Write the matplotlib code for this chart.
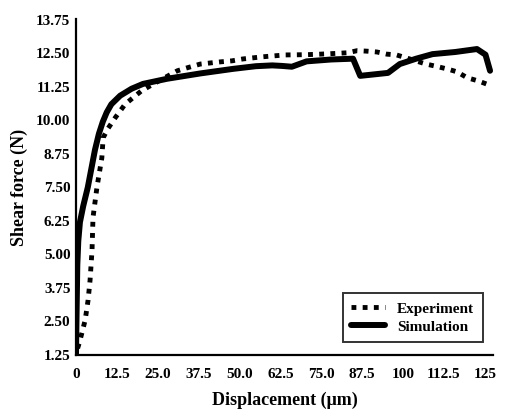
import numpy as np
import matplotlib.pyplot as plt

# values
sim_x = [0, 0.2, 0.4, 0.7, 1.2, 2.2, 3.6, 4.7, 5.8, 7.0, 8.2, 9.4, 10.8, 13.5, 17.0,
         20.5, 27.8, 38.0, 48.0, 55.0, 60.0, 63.0, 66.0, 70.5, 78.0, 84.7, 86.9,
         90.0, 95.4, 99.0, 104.0, 109.0, 116.0, 122.6, 125.2, 126.6]
sim_y = [1.3, 3.0, 4.6, 5.5, 6.2, 6.8, 7.5, 8.2, 8.9, 9.5, 9.95, 10.3, 10.6, 10.92,
         11.18, 11.36, 11.55, 11.75, 11.92, 12.02, 12.05, 12.03, 12.0, 12.2, 12.27,
         12.3, 11.66, 11.7, 11.77, 12.1, 12.3, 12.47, 12.55, 12.66, 12.45, 11.85]

exp_x = [0.5, 1.0, 1.8, 2.8, 3.7, 4.3, 4.9, 5.2, 6.4, 7.9, 8.3, 9.8, 12.0, 15.0,
         20.0, 25.0, 31.0, 34.0, 38.0, 41.0, 44.0, 47.7, 51.0, 57.0, 64.0, 70.6,
         76.8, 83.0, 86.0, 89.0, 92.0, 95.0, 98.0, 101.0, 107.0, 110.7, 114.0,
         116.5, 119.6, 123.0, 126.3]
exp_y = [1.5, 1.7, 2.07, 2.55, 3.3, 4.04, 5.15, 6.38, 7.5, 8.6, 9.35, 9.7, 10.1,
         10.6, 11.1, 11.45, 11.85, 11.96, 12.1, 12.14, 12.18, 12.22, 12.29, 12.37,
         12.44, 12.45, 12.48, 12.52, 12.6, 12.58, 12.55, 12.47, 12.44, 12.33, 12.1,
         12.0, 11.9, 11.81, 11.59, 11.47, 11.32]

x_ticks = [0, 12.5, 25.0, 37.5, 50.0, 62.5, 75.0, 87.5, 100, 112.5, 125]
x_labels = ["0", "12.5", "25.0", "37.5", "50.0", "62.5", "75.0", "87.5", "100",
            "112.5", "125"]
y_ticks = [1.25, 2.5, 3.75, 5.0, 6.25, 7.5, 8.75, 10.0, 11.25, 12.5, 13.75]
y_labels = ["1.25", "2.50", "3.75", "5.00", "6.25", "7.50", "8.75", "10.00",
            "11.25", "12.50", "13.75"]

plt.rcParams["font.family"] = ["Liberation Serif", "DejaVu Serif"]
plt.rcParams["font.weight"] = "bold"

fig = plt.figure(figsize=(5.1, 4.16), dpi=100)
ax = fig.add_axes([76 / 510, 1 - 355 / 416, (493 - 76) / 510, (355 - 19) / 416])

ax.plot(exp_x, exp_y, color="black", lw=3.5, linestyle=(0, (1, 1.3)),
        dash_capstyle="butt", label="Experiment")
ax.plot(sim_x, sim_y, color="black", lw=4.3, solid_capstyle="round",
        solid_joinstyle="round", label="Simulation")

ax.set_xlim(0, 127.5)
ax.set_ylim(1.25, 13.78)
ax.set_xticks(x_ticks)
ax.set_xticklabels(x_labels)
ax.set_yticks(y_ticks)
ax.set_yticklabels(y_labels)
ax.tick_params(length=0, labelsize=11)
ax.tick_params(axis="x", pad=9)
ax.tick_params(axis="y", pad=4)

for s in ["top", "right"]:
    ax.spines[s].set_visible(False)
for s in ["left", "bottom"]:
    ax.spines[s].set_linewidth(1.6)

ax.set_xlabel("Displacement (\u03bcm)", fontsize=13, fontweight="bold", labelpad=8)
ax.set_ylabel("Shear force (N)", fontsize=13, fontweight="bold", labelpad=6)

leg = ax.legend(loc="lower right", bbox_to_anchor=(0.975, 0.038), fontsize=11,
                frameon=True, fancybox=False, handlelength=2.2, borderpad=0.55,
                labelspacing=0.3, handletextpad=0.8, borderaxespad=0)
leg.get_frame().set_edgecolor("black")
leg.get_frame().set_linewidth(1.4)

fig.savefig("out.png", dpi=100)
